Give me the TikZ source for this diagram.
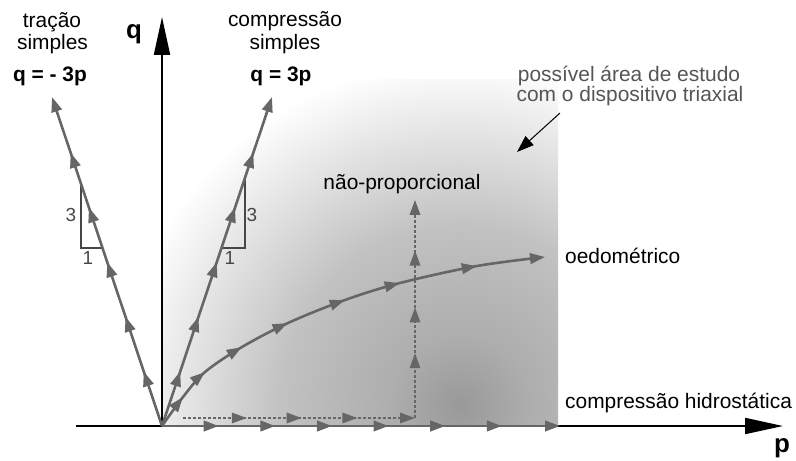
\documentclass[tikz,border=0pt]{standalone}
\usepackage{fontspec}
\setmainfont{Liberation Sans}
\usetikzlibrary{arrows.meta,decorations.markings,calc}
\definecolor{gl}{RGB}{102,102,102}
\definecolor{tri}{RGB}{70,70,70}
\definecolor{notec}{RGB}{85,85,85}
\pgfdeclareradialshading{areashade}{\pgfpoint{0bp}{0bp}}{color(0bp)=(black!40); color(5bp)=(black!32); color(13bp)=(black!24); color(16.5bp)=(black!17); color(20bp)=(black!10); color(22.5bp)=(black!5); color(25bp)=(white); color(50bp)=(white)}
\tikzset{
  gtip/.tip={Triangle[length=15bp,width=10.5bp]},
  axis/.style={draw=black, line width=2bp, -{Triangle[length=38bp,width=16bp]}},
  gline/.style={color=gl, line width=2.6bp, -{gtip}},
  dline/.style={color=gl, line width=1.8bp, dash pattern=on 3bp off 2bp, -{gtip}},
  marks/.style={postaction={decorate}, decoration={markings, #1}},
  lbl/.style={font=\fontsize{21}{24}\selectfont, inner sep=0pt, anchor=base},
  blbl/.style={font=\fontsize{21}{24}\selectfont\bfseries, inner sep=0pt, anchor=base},
  axlbl/.style={font=\fontsize{26}{30}\selectfont\bfseries, inner sep=0pt, anchor=base},
  note/.style={font=\fontsize{21}{24}\selectfont, text=notec, inner sep=0pt, anchor=base},
  num/.style={font=\fontsize{19}{22}\selectfont, text=tri, inner sep=0pt, anchor=base},
  triline/.style={draw=tri, line width=1.2bp},
}
\begin{document}
\begin{tikzpicture}[x=1bp,y=-1bp]
\useasboundingbox (0,0) rectangle (796,461);
% coordinates
\coordinate (O) at (162,426);
\coordinate (Xl) at (76,426);
\coordinate (Xr) at (783,426);
\coordinate (Qt) at (162,17);
\coordinate (Lt) at (52,97);
\coordinate (Rt) at (272,97);
\coordinate (Ht) at (560,426);
\coordinate (D0) at (183,418);
\coordinate (Dc) at (415,418);
\coordinate (Dt) at (415,200);
\coordinate (c1) at (183,397);
\coordinate (c2) at (205,372);
\coordinate (c3) at (242,347);
\coordinate (c4) at (288,323);
\coordinate (c5) at (345,300);
\coordinate (c6) at (400,283);
\coordinate (c7) at (477,266);
\coordinate (c8) at (545,257);
\coordinate (Ta) at (81,183);
\coordinate (Tb) at (81,248);
\coordinate (Tc) at (102.7,248);
\coordinate (Ra) at (245,177);
\coordinate (Rb) at (245,248);
\coordinate (Rc) at (221.3,248);
\coordinate (Ns) at (560,113);
\coordinate (Ne) at (517,152);
% shaded area
\begin{scope}
  \clip (162,80) rectangle (558,426);
  \shade[shading=areashade] (460,405) circle (345bp);
\end{scope}
% axes
\draw[axis] (Xl) -- (Xr);
\draw[axis] (O) -- (Qt);
% slope triangles
\draw[triline] (Ta) -- (Tb) -- (Tc);
\draw[triline] (Ra) -- (Rb) -- (Rc);
% straight paths
\draw[gline, marks={mark=at position 57.8pt with {\arrow{gtip}}, mark=at position 115.6pt with {\arrow{gtip}}, mark=at position 173.4pt with {\arrow{gtip}}, mark=at position 231.3pt with {\arrow{gtip}}, mark=at position 289.1pt with {\arrow{gtip}}}] (O) -- (Lt);
\draw[gline, marks={mark=at position 57.8pt with {\arrow{gtip}}, mark=at position 115.6pt with {\arrow{gtip}}, mark=at position 173.4pt with {\arrow{gtip}}, mark=at position 231.3pt with {\arrow{gtip}}, mark=at position 289.1pt with {\arrow{gtip}}}] (O) -- (Rt);
% hydrostatic
\draw[gline, marks={mark=at position 56.9pt with {\arrow{gtip}}, mark=at position 113.7pt with {\arrow{gtip}}, mark=at position 170.6pt with {\arrow{gtip}}, mark=at position 227.4pt with {\arrow{gtip}}, mark=at position 284.3pt with {\arrow{gtip}}, mark=at position 341.1pt with {\arrow{gtip}}}] (O) -- (Ht);
% non proportional
\draw[dline, marks={mark=at position 64pt with {\arrow{gtip}}, mark=at position 119pt with {\arrow{gtip}}, mark=at position 175pt with {\arrow{gtip}}}] (D0) -- (Dc);
\draw[dline, marks={mark=at position 65pt with {\arrow{gtip}}, mark=at position 111pt with {\arrow{gtip}}, mark=at position 168pt with {\arrow{gtip}}}] (Dc) -- (Dt);
% oedometric
\draw[gline, marks={mark=at position 35.8pt with {\arrow{gtip}}, mark=at position 69.3pt with {\arrow{gtip}}, mark=at position 114pt with {\arrow{gtip}}, mark=at position 166pt with {\arrow{gtip}}, mark=at position 227.8pt with {\arrow{gtip}}, mark=at position 285.6pt with {\arrow{gtip}}, mark=at position 364.8pt with {\arrow{gtip}}}] plot[smooth, tension=0.55] coordinates {(O) (c1) (c2) (c3) (c4) (c5) (c6) (c7) (c8)};
% note arrow
\draw[line width=1bp, -{Triangle[length=17bp,width=12bp]}] (Ns) -- (Ne);
% labels
\node[axlbl] (lq) at (134,39) {q};
\node[axlbl] (lp) at (782,452) {p};
\node[lbl] (tr1) at (52,27.5) {tração};
\node[lbl] (tr2) at (52.5,50) {simples};
\node[blbl] (tr3) at (50,82) {q = - 3p};
\node[lbl] (cs1) at (285,27) {compressão};
\node[lbl] (cs2) at (285,50) {simples};
\node[blbl] (cs3) at (281,82) {q = 3p};
\node[note] (n1) at (629,82) {possível área de estudo};
\node[note] (n2) at (630,102) {com o dispositivo triaxial};
\node[lbl] (np) at (402,190) {não-proporcional};
\node[lbl, anchor=base west] (oe) at (565,264) {oedométrico};
\node[lbl, anchor=base west] (ch) at (565,408) {compressão hidrostática};
\node[num] (l3) at (71,221.5) {3};
\node[num] (l1) at (88,265) {1};
\node[num] (r3) at (252,221.5) {3};
\node[num] (r1) at (230,265) {1};
\end{tikzpicture}
\end{document}
